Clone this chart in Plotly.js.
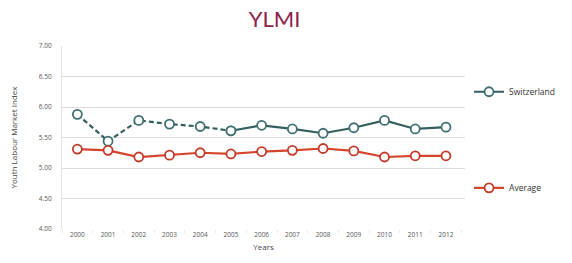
<!DOCTYPE html>
<html>
<head>
<meta charset="utf-8">
<script src="https://cdn.plot.ly/plotly-3.0.1.min.js"></script>
<style>html,body{margin:0;padding:0;background:#fff;}#chart{width:572px;height:263px;}</style>
</head>
<body>
<div id="chart"></div>
<script>
var years = ["2000","2001","2002","2003","2004","2005","2006","2007","2008","2009","2010","2011","2012"];
var switzerland = [5.88, 5.44, 5.78, 5.72, 5.68, 5.61, 5.70, 5.64, 5.57, 5.66, 5.78, 5.64, 5.67];
var average = [5.31, 5.29, 5.18, 5.21, 5.25, 5.23, 5.27, 5.29, 5.32, 5.28, 5.18, 5.20, 5.20];
var yTicks = [4.0, 4.5, 5.0, 5.5, 6.0, 6.5, 7.0];
var dashedUntil = 6; // 2000-2005 drawn dashed

var swissColor = "#355f5f";
var swissEdge = "#3f6f70";
var avgColor = "#d4452c";
var avgEdge = "#c23b2a";

var traces = [
  {
    x: years.slice(0, dashedUntil), y: switzerland.slice(0, dashedUntil),
    type: "scatter", mode: "lines+markers", name: "Switzerland", showlegend: false,
    line: {color: swissColor, width: 2.2, dash: "5px,3px"},
    marker: {symbol: "circle", size: 9, color: "#ffffff", line: {color: swissEdge, width: 1.8}}
  },
  {
    x: years.slice(dashedUntil - 1), y: switzerland.slice(dashedUntil - 1),
    type: "scatter", mode: "lines+markers", name: "Switzerland", legend: "legend",
    line: {color: swissColor, width: 2.2},
    marker: {symbol: "circle", size: 9, color: "#ffffff", line: {color: swissEdge, width: 1.8}}
  },
  {
    x: years, y: average,
    type: "scatter", mode: "lines+markers", name: "Average", legend: "legend2",
    line: {color: avgColor, width: 2.2},
    marker: {symbol: "circle", size: 9, color: "#ffffff", line: {color: avgEdge, width: 1.8}}
  }
];

var layout = {
  width: 572, height: 263,
  margin: {l: 62, r: 89, t: 46, b: 34},
  paper_bgcolor: "#ffffff", plot_bgcolor: "#ffffff",
  font: {family: "Open Sans, Lato, sans-serif", color: "#555"},
  title: {text: "YLMI", x: 0.48, xanchor: "center", y: 0.925, yanchor: "middle",
          font: {family: "Lato, Open Sans, sans-serif", size: 22, color: "#8e1f4f"}},
  xaxis: {
    type: "category", range: [-0.5, 12.62],
    title: {text: "Years", font: {size: 8, color: "#444"}, standoff: 6},
    tickfont: {size: 6.5, color: "#555"},
    showgrid: false, showline: false, zeroline: false,
    ticks: "outside", ticklen: 3, tickcolor: "#e6e6e6", tickson: "boundaries"
  },
  yaxis: {
    range: [4.0, 7.0], tickvals: yTicks, tickformat: ".2f",
    title: {text: "Youth Labour Market Index", font: {size: 8, color: "#444"}, standoff: 20},
    tickfont: {size: 6.5, color: "#555"},
    showgrid: true, gridcolor: "#dcdcdc", gridwidth: 1,
    showline: true, linecolor: "#e4e4e4", zeroline: false,
    ticks: "outside", ticklen: 8, tickcolor: "rgba(0,0,0,0)"
  },
  legend: {x: 1.01, y: 0.75, xanchor: "left", yanchor: "middle",
           font: {size: 8.5, color: "#333"}, itemwidth: 30, bgcolor: "rgba(0,0,0,0)"},
  legend2: {x: 1.01, y: 0.225, xanchor: "left", yanchor: "middle",
            font: {size: 8.5, color: "#333"}, itemwidth: 30, bgcolor: "rgba(0,0,0,0)"},
  showlegend: true
};

Plotly.newPlot("chart", traces, layout, {displayModeBar: false, staticPlot: true});
</script>
</body>
</html>
